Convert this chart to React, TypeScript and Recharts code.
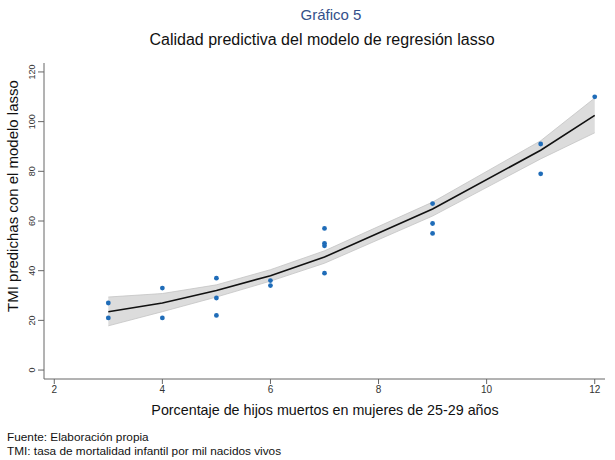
import React from "react";
import {
  ComposedChart,
  Area,
  Line,
  Scatter,
  XAxis,
  YAxis,
} from "recharts";

// valores observados (TMI predichas por el lasso)
const obsX = [3, 3, 4, 4, 5, 5, 5, 6, 6, 7, 7, 7, 7, 9, 9, 9, 11, 11, 12];
const obsY = [27, 21, 33, 21, 37, 29, 22, 36, 34, 57, 51, 50, 39, 67, 59, 55, 91, 79, 110];

// ajuste cuadrático y su intervalo de confianza
const fitX = [3, 4, 5, 6, 7, 9, 11, 12];
const fitY = [23.5, 27, 32, 38, 45.5, 64.8, 88.5, 102.5];
const ciLow = [17.8, 23.5, 29.4, 35.8, 43, 62, 85, 95.5];
const ciHigh = [29.4, 30.8, 34.3, 40.4, 48, 67.6, 92.3, 109.5];

const xTicks = [2, 4, 6, 8, 10, 12];
const yTicks = [0, 20, 40, 60, 80, 100, 120];

const fitData = fitX.map((x, i) => ({
  x,
  fit: fitY[i],
  band: [ciLow[i], ciHigh[i]],
}));
const points = obsX.map((x, i) => ({ x, y: obsY[i] }));

const FONT = "'Liberation Sans', Arial, sans-serif";

const YTick = (props: any) => {
  const { x, y, payload } = props;
  return (
    <text
      x={x}
      y={y}
      transform={`rotate(-90 ${x} ${y})`}
      textAnchor="middle"
      dy={-1}
      fontSize={9}
      fill="#333"
      fontFamily={FONT}
    >
      {payload.value}
    </text>
  );
};

const Dot = (props: any) => {
  const { cx, cy } = props;
  return <circle cx={cx} cy={cy} r={2.4} fill="#1f6cb8" />;
};

export default function App() {
  return (
    <div
      style={{
        position: "fixed",
        left: 0,
        top: 0,
        width: 615,
        height: 460,
        background: "#fff",
        fontFamily: FONT,
      }}
    >
      <ComposedChart
        width={615}
        height={460}
        data={fitData}
        margin={{ top: 63, right: 10, bottom: 51, left: 4 }}
      >
        <XAxis
          type="number"
          dataKey="x"
          domain={[1.81, 12.19]}
          ticks={xTicks}
          tickSize={5}
          height={30}
          stroke="#666"
          tick={{ fontSize: 10, fill: "#333", fontFamily: FONT }}
          allowDataOverflow
        />
        <YAxis
          type="number"
          domain={[-3.6, 123.6]}
          ticks={yTicks}
          tickSize={6}
          width={40}
          stroke="#666"
          tick={<YTick />}
          allowDataOverflow
        />
        <Area
          type="linear"
          dataKey="band"
          fill="#dcdcdc"
          fillOpacity={1}
          stroke="#c4c4c4"
          strokeWidth={0.8}
          isAnimationActive={false}
        />
        <Line
          type="linear"
          dataKey="fit"
          stroke="#111"
          strokeWidth={1.6}
          dot={false}
          isAnimationActive={false}
        />
        <Scatter
          data={points}
          dataKey="y"
          shape={<Dot />}
          isAnimationActive={false}
        />
      </ComposedChart>
      <svg
        width={615}
        height={460}
        style={{ position: "absolute", left: 0, top: 0, pointerEvents: "none" }}
        fontFamily={FONT}
      >
        <text x={331} y={20} textAnchor="middle" fontSize={15} fill="#34508a">
          Gráfico 5
        </text>
        <text x={322} y={45} textAnchor="middle" fontSize={16} fill="#111">
          Calidad predictiva del modelo de regresión lasso
        </text>
        <text
          x={18}
          y={196}
          transform="rotate(-90 18 196)"
          textAnchor="middle"
          fontSize={15}
          fill="#111"
        >
          TMI predichas con el modelo lasso
        </text>
        <text x={325} y={415} textAnchor="middle" fontSize={14.3} fill="#111">
          Porcentaje de hijos muertos en mujeres de 25-29 años
        </text>
        <text x={7} y={441} fontSize={11.8} fill="#111">
          Fuente: Elaboración propia
        </text>
        <text x={7} y={455} fontSize={11.8} fill="#111">
          TMI: tasa de mortalidad infantil por mil nacidos vivos
        </text>
      </svg>
    </div>
  );
}
